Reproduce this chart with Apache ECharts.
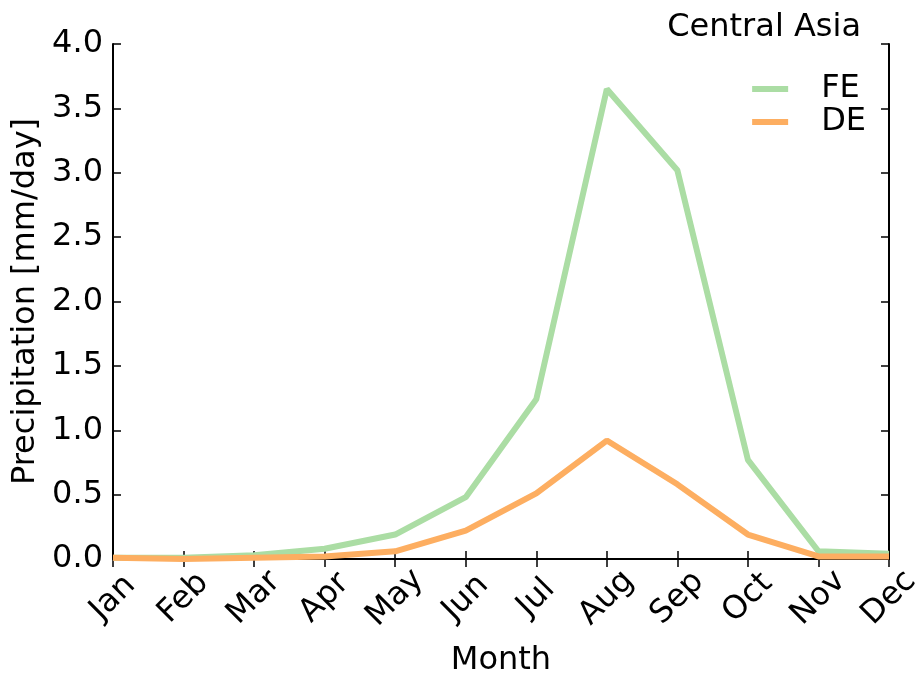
<!DOCTYPE html>
<html><head><meta charset="utf-8">
<script src="https://cdn.jsdelivr.net/npm/echarts@6/dist/echarts.min.js"></script>
<style>html,body{margin:0;padding:0;background:#fff}#c{width:919px;height:673px}</style>
</head><body><div id="c"></div>
<script>
const months = ['Jan','Feb','Mar','Apr','May','Jun','Jul','Aug','Sep','Oct','Nov','Dec'];
const feValues = [0.01, 0.01, 0.03, 0.08, 0.19, 0.48, 1.24, 3.65, 3.02, 0.77, 0.06, 0.04];
const deValues = [0.01, 0.00, 0.01, 0.02, 0.06, 0.22, 0.51, 0.92, 0.58, 0.19, 0.02, 0.02];
const yTicks = [0, 0.5, 1.0, 1.5, 2.0, 2.5, 3.0, 3.5, 4.0];

const font = 'DejaVu Sans';
const fs = 32;
const axisLine = {show: true, lineStyle: {color: '#000', width: 2}};
const tick = {show: true, inside: true, length: 8, lineStyle: {color: '#000', width: 1.5}};
const chart = echarts.init(document.getElementById('c'));
chart.setOption({
  animation: false,
  textStyle: {fontFamily: font},
  title: {text: 'Central Asia', right: 53, top: 7,
    textStyle: {fontFamily: font, fontSize: fs, fontWeight: 'normal', color: '#000'}},
  legend: {
    data: ['FE', 'DE'], orient: 'vertical', right: 48, top: 68,
    icon: 'rect', itemWidth: 36, itemHeight: 6, itemGap: 1,
    textStyle: {fontFamily: font, fontSize: fs, color: '#000', padding: [0, 0, 0, 28]}
  },
  grid: {left: 113, right: 30, top: 44, bottom: 114, containLabel: false, outerBoundsMode: 'none'},
  xAxis: [{
    type: 'category', data: months, boundaryGap: false,
    name: 'Month', nameLocation: 'middle', nameGap: 86,
    nameTextStyle: {fontFamily: font, fontSize: fs, color: '#000'},
    axisLine: axisLine, axisTick: tick,
    axisLabel: {rotate: 45, align: 'center', verticalAlign: 'middle', margin: 39,
      fontFamily: font, fontSize: fs, color: '#000', interval: 0},
    splitLine: {show: false}
  }, {
    type: 'category', data: months, boundaryGap: false, position: 'top',
    axisLine: axisLine, axisTick: tick, axisLabel: {show: false}, splitLine: {show: false}
  }],
  yAxis: [{
    type: 'value', min: 0, max: 4, interval: 0.5,
    name: 'Precipitation [mm/day]', nameLocation: 'middle', nameGap: 67,
    nameTextStyle: {fontFamily: font, fontSize: fs, color: '#000'},
    axisLine: axisLine, axisTick: tick,
    axisLabel: {fontFamily: font, fontSize: fs, color: '#000', margin: 10,
      formatter: v => v.toFixed(1)},
    splitLine: {show: false}
  }, {
    type: 'value', min: 0, max: 4, interval: 0.5, position: 'right',
    axisLine: axisLine, axisTick: tick, axisLabel: {show: false}, splitLine: {show: false}
  }],
  series: [
    {name: 'FE', type: 'line', data: feValues, symbol: 'none',
      lineStyle: {color: '#abdda4', width: 6}, itemStyle: {color: '#abdda4'}},
    {name: 'DE', type: 'line', data: deValues, symbol: 'none',
      lineStyle: {color: '#fdae61', width: 6}, itemStyle: {color: '#fdae61'}}
  ]
});
</script></body></html>
